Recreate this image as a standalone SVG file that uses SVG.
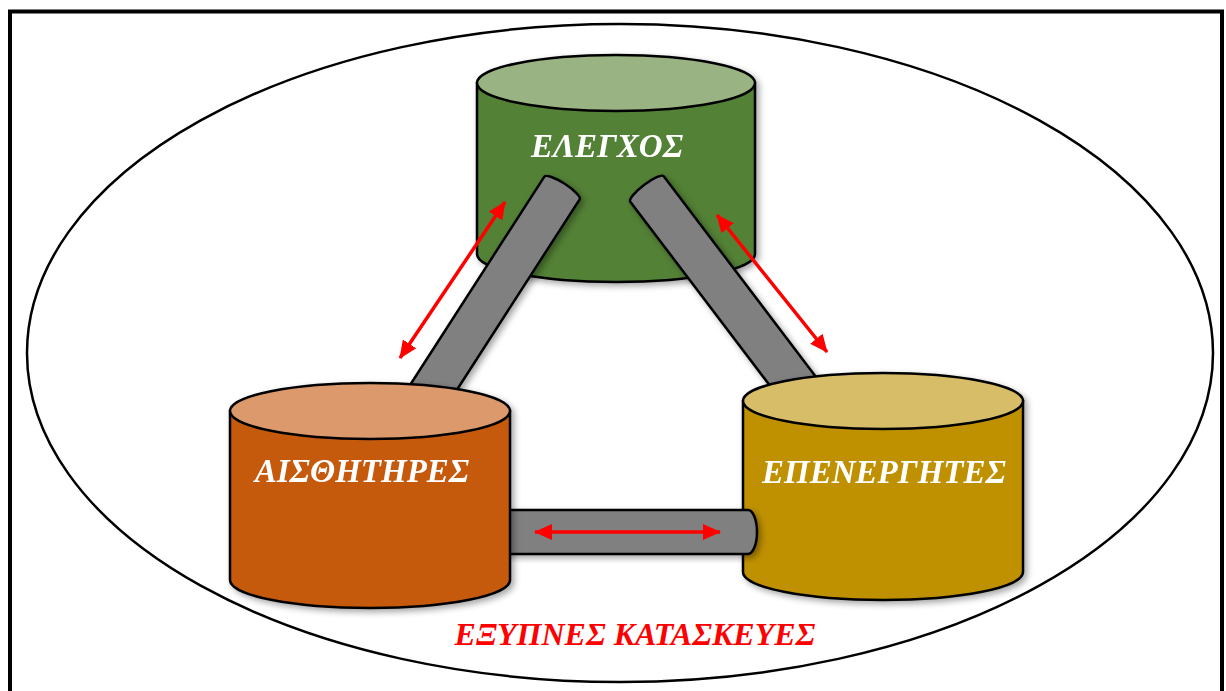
<svg xmlns="http://www.w3.org/2000/svg" width="1226" height="691" viewBox="0 0 1226 691">
<style>
.lbl{font-family:"Liberation Serif","DejaVu Serif",serif;font-weight:bold;font-style:italic;font-size:33px;fill:#ffffff;text-anchor:middle}
.title{font-family:"Liberation Serif","DejaVu Serif",serif;font-weight:bold;font-style:italic;font-size:32px;fill:#ff0000;text-anchor:middle}
.edge{stroke:#000;stroke-width:2.5}
.bar{fill:#808080;stroke:#000;stroke-width:2.5}
.arr{stroke:#ff0000;stroke-width:3.5;fill:none;marker-start:url(#ah);marker-end:url(#ah)}
</style>
<defs>
<filter id="sh" x="-20%" y="-20%" width="140%" height="140%">
<feDropShadow dx="3" dy="3" stdDeviation="3" flood-color="#000" flood-opacity="0.35"/>
</filter>
<marker id="ah" viewBox="0 0 18 16" refX="17" refY="8" markerWidth="18" markerHeight="16" markerUnits="userSpaceOnUse" orient="auto-start-reverse">
<path d="M0,0 L18,8 L0,16 Z" fill="#ff0000"/>
</marker>
</defs>
<rect x="0" y="0" width="1226" height="691" fill="#ffffff"/>
<rect x="10" y="11.5" width="1212" height="690" fill="none" stroke="#000" stroke-width="4"/>
<ellipse cx="620" cy="353" rx="593" ry="329" fill="none" stroke="#000" stroke-width="2.5"/>

<g id="node-elegxos" filter="url(#sh)">
<path class="edge" d="M477,83 L477,254 A139 28 0 0 0 755,254 L755,83 Z" fill="#538135"/>
<ellipse class="edge" cx="616" cy="83" rx="139" ry="28" fill="#99b383"/>
<text class="lbl" x="607" y="157">ΕΛΕΓΧΟΣ</text>
</g>

<g id="connectors">
<g filter="url(#sh)">
<path class="bar" transform="translate(562,188) rotate(32.8)" d="M-21,255 L-21,0 A21 5 0 0 1 21,0 L21,255 Z"/>
<path class="bar" transform="translate(647,189) rotate(-37.2)" d="M-21,255 L-21,0 A21 5 0 0 1 21,0 L21,255 Z"/>
</g>
</g>

<g id="node-epenergites" filter="url(#sh)">
<path class="edge" d="M743,401 L743,572 A140 28 0 0 0 1023,572 L1023,401 Z" fill="#bf9000"/>
<ellipse class="edge" cx="883" cy="401" rx="140" ry="28" fill="#d8bd69"/>
<text class="lbl" x="884" y="483">ΕΠΕΝΕΡΓΗΤΕΣ</text>
</g>

<g id="connector-bottom" filter="url(#sh)">
<path class="bar" d="M500,510 L748,510 A9 22 0 0 1 748,554 L500,554 Z"/>
</g>

<g id="node-aisthitires" filter="url(#sh)">
<path class="edge" d="M230,411 L230,580 A140 28 0 0 0 510,580 L510,411 Z" fill="#c55a11"/>
<ellipse class="edge" cx="370" cy="411" rx="140" ry="28" fill="#dc9a6c"/>
<text class="lbl" x="362" y="482">ΑΙΣΘΗΤΗΡΕΣ</text>
</g>

<g id="arrows">
<line class="arr" x1="400" y1="358" x2="505" y2="202"/>
<line class="arr" x1="717" y1="215" x2="827" y2="352"/>
<line class="arr" x1="535" y1="532" x2="720" y2="532"/>
</g>

<text class="title" x="635" y="645">ΕΞΥΠΝΕΣ ΚΑΤΑΣΚΕΥΕΣ</text>
</svg>
